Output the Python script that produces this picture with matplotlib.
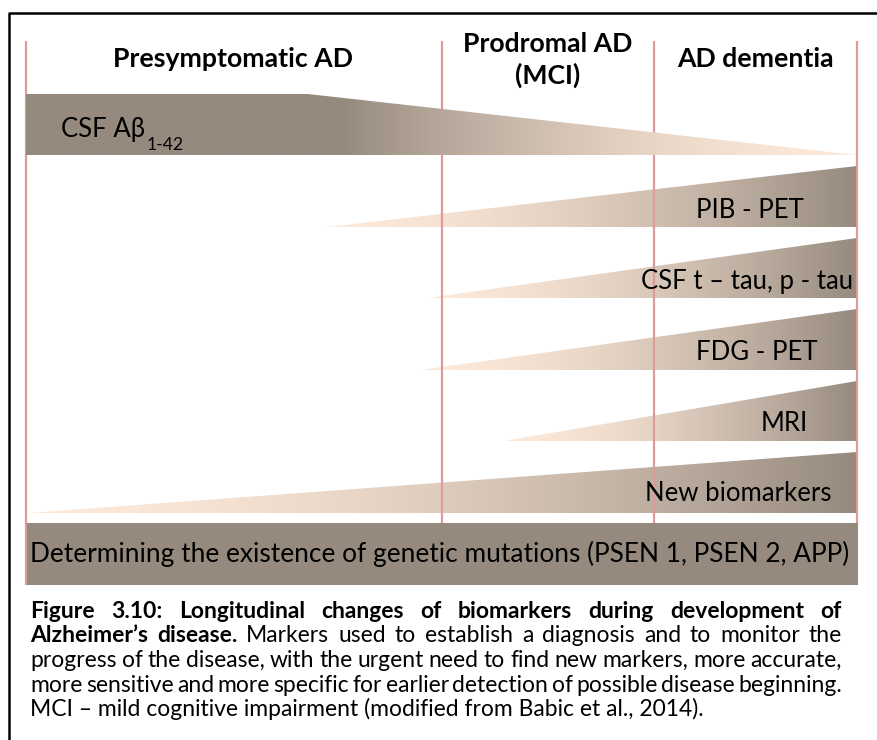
import numpy as np
import matplotlib.pyplot as plt
from matplotlib.patches import Polygon

plt.rcParams['font.family'] = ['Lato', 'DejaVu Sans']

# Disease timeline in % (0 = earliest presymptomatic, 100 = late dementia)
stage_names = ["Presymptomatic AD", "Prodromal AD\n(MCI)", "AD dementia"]
stage_bounds = [0, 50, 75.6, 100]

# CSF Abeta 1-42 stays high then declines
abeta_label = "CSF Aβ"
abeta_sub = "1-42"
abeta_decline_start = 33.9

# markers that rise towards dementia, with the time they start to change
marker_names = ["PIB - PET", "CSF t – tau, p - tau", "FDG - PET", "MRI", "New biomarkers"]
marker_onset = [36.2, 47.4, 47.4, 56.8, 0.2]

genetic_label = "Determining the existence of genetic mutations (PSEN 1, PSEN 2, APP)"

caption_lines = [
    [("Figure 3.10: Longitudinal changes of biomarkers during development of", "bold")],
    [("Alzheimer’s disease.", "bold"), ("Markers used to establish a diagnosis and to monitor the", "normal")],
    [("progress of the disease, with the urgent need to find new markers, more accurate,", "normal")],
    [("more sensitive and more specific for earlier detection of possible disease beginning.", "normal")],
    [("MCI – mild cognitive impairment (modified from Babic et al., 2014).", "normal")],
]

light = np.array([253, 233, 217]) / 255
dark = np.array([150, 138, 126]) / 255
pink = '#DC9C9B'

W, H = 877, 740
fig = plt.figure(figsize=(W / 100, H / 100), dpi=100)
renderer = fig.canvas.get_renderer()

# x in timeline units: 0 -> 26 px, 100 -> 857 px ; y in pixels (top down)
px_per = (857 - 26) / 100
ax = fig.add_axes([0, 0, 1, 1])
ax.axis('off')

def ramp(n=256):
    t = np.linspace(0, 1, n)
    w = t ** 1.7
    return (light[None, :] * (1 - w[:, None]) + dark[None, :] * w[:, None])[None, :, :]

# stage separators
for b in stage_bounds:
    ax.plot([b, b], [41, 585], color=pink, lw=1.6, zorder=2, solid_capstyle='butt')

# rising markers
row_bottom0, row_pitch, row_h = 227, 71.5, 61
for i, (name, onset) in enumerate(zip(marker_names, marker_onset)):
    yb = row_bottom0 + i * row_pitch
    yt = yb - row_h
    tri = Polygon([(onset, yb), (100, yb), (100, yt)], closed=True,
                  facecolor='none', edgecolor='none')
    ax.add_patch(tri)
    im = ax.imshow(ramp(), extent=[onset, 100, yb, yt], aspect='auto',
                   interpolation='bilinear', zorder=1)
    im.set_clip_path(tri)

# CSF Abeta: flat then decreasing
ab_top, ab_bot = 94, 155
poly = Polygon([(0, ab_top), (abeta_decline_start, ab_top), (100, ab_bot), (0, ab_bot)],
               closed=True, facecolor='none', edgecolor='none')
ax.add_patch(poly)
xs = np.linspace(0, 100, 512)
g = np.clip((xs - 37.8) / (100 - 37.8), 0, 1)
wd = (1 - g) ** 1.7
arr = (dark[None, :] * wd[:, None] + light[None, :] * (1 - wd[:, None]))[None, :, :]
im = ax.imshow(arr, extent=[0, 100, ab_bot, ab_top], aspect='auto',
               interpolation='bilinear', zorder=3)
im.set_clip_path(poly)

# genetic testing bar
ax.barh(554, 100, height=62, left=0.1, color=dark, zorder=3)

ax.set_xlim(-26 / px_per, (W - 26) / px_per)
ax.set_ylim(H, 0)

# text overlay in pixel coordinates
tx = fig.add_axes([0, 0, 1, 1])
tx.axis('off')
tx.set_xlim(0, W)
tx.set_ylim(H, 0)

tx.plot([9, 9, W + 5], [H + 5, 13, 13], color='black', lw=1.8)

def fit(t, target):
    w = t.get_window_extent(renderer).width
    t.set_fontsize(t.get_fontsize() * target / w)
    return t.get_fontsize()

# stage headers
h0 = tx.text(233, 67, stage_names[0], ha='center', va='baseline', fontsize=10, fontweight='bold')
hsize = fit(h0, 239)
p1, p2 = stage_names[1].split("\n")
tx.text(548, 52, p1, ha='center', va='baseline', fontsize=hsize, fontweight='bold')
tx.text(548, 84, p2, ha='center', va='baseline', fontsize=hsize, fontweight='bold')
tx.text(755, 67, stage_names[2], ha='center', va='baseline', fontsize=hsize, fontweight='bold')

# marker labels
lab_size = fit(tx.text(853, 289, marker_names[1], ha='right', va='baseline', fontsize=10), 211)
lab_pos = [(750, 218, 'center'), None, (757, 360, 'center'), (784, 431, 'center'), (738, 501, 'center')]
for name, pos in zip(marker_names, lab_pos):
    if pos is None:
        continue
    tx.text(pos[0], pos[1], name, ha=pos[2], va='baseline', fontsize=lab_size)

ab = tx.text(61, 137, abeta_label, ha='left', va='baseline', fontsize=lab_size)
tx.annotate(abeta_sub, xy=(1, 0), xycoords=ab, xytext=(1, -2), textcoords='offset points',
            ha='left', va='center', fontsize=lab_size * 0.68)

gl = tx.text(30, 562, genetic_label, ha='left', va='baseline', fontsize=10)
fit(gl, 817)

# caption, justified
cap_x0, cap_x1 = 30, 842
last = tx.text(cap_x0, 716, caption_lines[-1][0][0], ha='left', va='baseline', fontsize=10)
csize = fit(last, 675)
baselines = [618, 642.5, 667, 691.5]
for line, yb in zip(caption_lines[:-1], baselines):
    words = []
    for chunk, wt in line:
        words += [(w, wt) for w in chunk.split()]
    arts = [tx.text(0, yb, w, ha='left', va='baseline', fontsize=csize, fontweight=wt)
            for w, wt in words]
    widths = [a.get_window_extent(renderer).width for a in arts]
    gap = (cap_x1 - cap_x0 - sum(widths)) / (len(arts) - 1)
    x = cap_x0
    for a, w in zip(arts, widths):
        a.set_x(x)
        x += w + gap

fig.savefig('out.png', dpi=100)
